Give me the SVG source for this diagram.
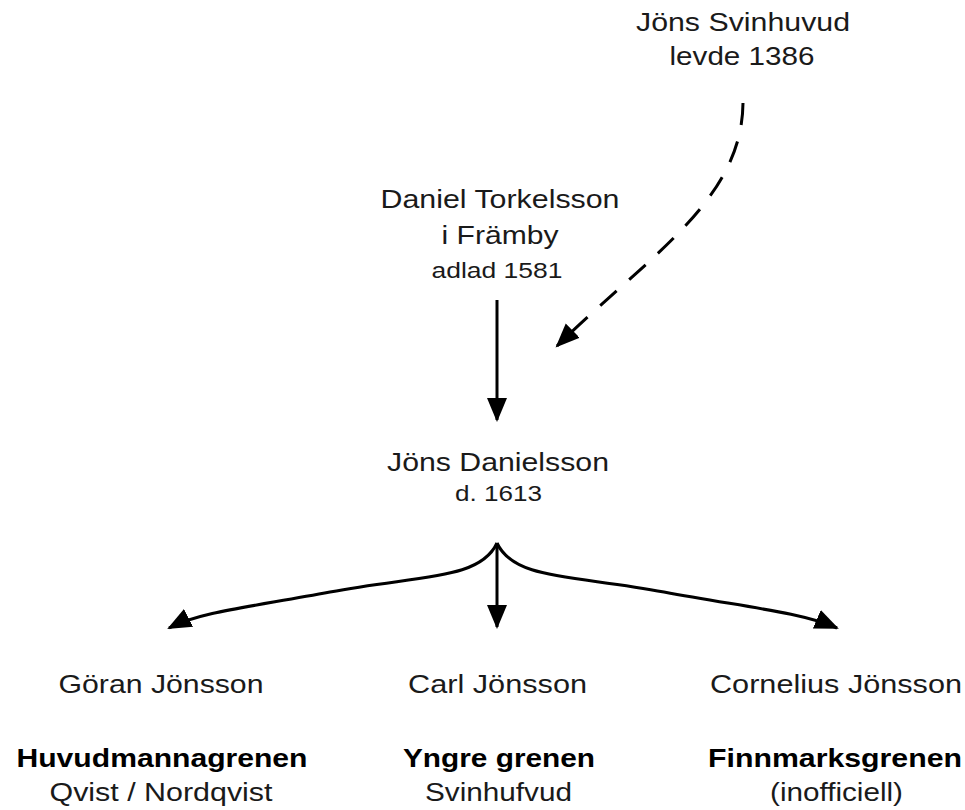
<svg xmlns="http://www.w3.org/2000/svg" width="965" height="810" viewBox="0 0 965 810">
<style>
text{font-family:"Liberation Sans",Arial,sans-serif;fill:#1a1a1a;text-anchor:middle}
.n{font-size:26.5px}
.s{font-size:22px}
.b{font-size:26.5px;font-weight:bold;fill:#000}
.c{fill:none;stroke:#000;stroke-width:3}
</style>
<defs>
<marker id="ah2" markerWidth="26" markerHeight="26" refX="22" refY="10" orient="auto" markerUnits="userSpaceOnUse" viewBox="0 0 26 20">
<path d="M0,0 L24,10 L0,20 Z" fill="#000"/>
</marker>
</defs>
<rect width="965" height="810" fill="#fff"/>
<g id="connectors">
<path class="c" d="M497,300 L497,420" marker-end="url(#ah2)"/>
<path class="c" d="M743,103 C742,200 650,255 557,346" stroke-dasharray="22,17" marker-end="url(#ah2)"/>
<path class="c" d="M497,543 L497,627" marker-end="url(#ah2)"/>
<path class="c" d="M497,543 C480,580 420,575 330,592 C250,607 200,612 169,628" marker-end="url(#ah2)"/>
<path class="c" d="M497,543 C514,580 574,575 664,592 C744,607 800,612 837,628" marker-end="url(#ah2)"/>
</g>
<g id="jons-svinhuvud">
<text class="n" x="743" y="31" textLength="214" lengthAdjust="spacingAndGlyphs">Jöns Svinhuvud</text>
<text class="n" x="742" y="65" textLength="145" lengthAdjust="spacingAndGlyphs">levde 1386</text>
</g>
<g id="daniel-torkelsson">
<text class="n" x="500" y="208" textLength="239" lengthAdjust="spacingAndGlyphs">Daniel Torkelsson</text>
<text class="n" x="500" y="244" textLength="117" lengthAdjust="spacingAndGlyphs">i Främby</text>
<text class="s" x="497" y="278" textLength="131" lengthAdjust="spacingAndGlyphs">adlad 1581</text>
</g>
<g id="jons-danielsson">
<text class="n" x="498" y="471" textLength="222" lengthAdjust="spacingAndGlyphs">Jöns Danielsson</text>
<text class="s" x="498.5" y="501" textLength="87" lengthAdjust="spacingAndGlyphs">d. 1613</text>
</g>
<g id="goran-jonsson">
<text class="n" x="161" y="693" textLength="205" lengthAdjust="spacingAndGlyphs">Göran Jönsson</text>
<text class="b" x="162" y="767" textLength="291" lengthAdjust="spacingAndGlyphs">Huvudmannagrenen</text>
<text class="n" x="161" y="801" textLength="223" lengthAdjust="spacingAndGlyphs">Qvist / Nordqvist</text>
</g>
<g id="carl-jonsson">
<text class="n" x="497.5" y="693" textLength="179" lengthAdjust="spacingAndGlyphs">Carl Jönsson</text>
<text class="b" x="499" y="767" textLength="192" lengthAdjust="spacingAndGlyphs">Yngre grenen</text>
<text class="n" x="498.5" y="801" textLength="147" lengthAdjust="spacingAndGlyphs">Svinhufvud</text>
</g>
<g id="cornelius-jonsson">
<text class="n" x="836" y="693" textLength="252" lengthAdjust="spacingAndGlyphs">Cornelius Jönsson</text>
<text class="b" x="835" y="767" textLength="254" lengthAdjust="spacingAndGlyphs">Finnmarksgrenen</text>
<text class="n" x="836.5" y="801" textLength="133" lengthAdjust="spacingAndGlyphs">(inofficiell)</text>
</g>
</svg>
